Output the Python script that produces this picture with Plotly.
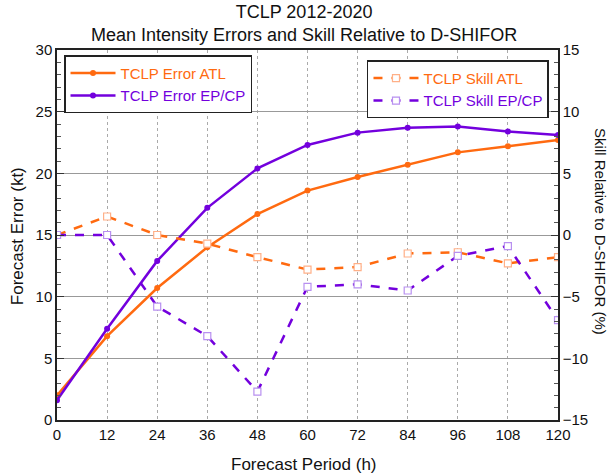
import plotly.graph_objects as go

hours = [0, 12, 24, 36, 48, 60, 72, 84, 96, 108, 120]
err_atl = [2.0, 6.8, 10.7, 14.0, 16.7, 18.6, 19.7, 20.7, 21.7, 22.2, 22.7]
err_ep = [1.6, 7.4, 12.9, 17.2, 20.4, 22.3, 23.3, 23.7, 23.8, 23.4, 23.1]
skill_atl = [0.0, 1.5, 0.0, -0.7, -1.8, -2.8, -2.6, -1.5, -1.4, -2.3, -1.8]
skill_ep = [0.0, 0.0, -5.8, -8.2, -12.7, -4.2, -4.0, -4.5, -1.7, -0.9, -6.9]
x_ticks = [0, 12, 24, 36, 48, 60, 72, 84, 96, 108, 120]

ORANGE = "#ff6a10"
PURPLE = "#7300dd"
ORANGE_L = "#ffb088"
PURPLE_L = "#b890f0"
FONT = "Liberation Sans, Arial, sans-serif"

fig = go.Figure()
fig.add_trace(go.Scatter(
    x=hours, y=err_atl, mode="lines+markers",
    name=f'<span style="color:{ORANGE}">TCLP Error ATL</span>',
    line=dict(color=ORANGE, width=2.5), marker=dict(color=ORANGE, size=6),
    legend="legend"))
fig.add_trace(go.Scatter(
    x=hours, y=err_ep, mode="lines+markers",
    name=f'<span style="color:{PURPLE}">TCLP Error EP/CP</span>',
    line=dict(color=PURPLE, width=2.5), marker=dict(color=PURPLE, size=6),
    legend="legend"))
fig.add_trace(go.Scatter(
    x=hours, y=skill_atl, mode="lines+markers", yaxis="y2",
    name=f'<span style="color:{ORANGE}">TCLP Skill ATL</span>',
    line=dict(color=ORANGE, width=2.5, dash="dash"),
    marker=dict(symbol="square", color="white", size=7,
                line=dict(color=ORANGE_L, width=1.2)),
    legend="legend2"))
fig.add_trace(go.Scatter(
    x=hours, y=skill_ep, mode="lines+markers", yaxis="y2",
    name=f'<span style="color:{PURPLE}">TCLP Skill EP/CP</span>',
    line=dict(color=PURPLE, width=2.5, dash="dash"),
    marker=dict(symbol="square", color="white", size=7,
                line=dict(color=PURPLE_L, width=1.2)),
    legend="legend2"))

axis_common = dict(
    showline=True, linecolor="#222", linewidth=1.5, automargin=False,
    tickfont=dict(size=15, color="#111", family=FONT),
)

fig.update_layout(
    width=608, height=476,
    margin=dict(l=57, r=50, t=50, b=56),
    paper_bgcolor="white", plot_bgcolor="white",
    font=dict(family=FONT, color="#111"),
    xaxis=dict(
        range=[0, 120], tickvals=x_ticks, ticks="", showgrid=True,
        gridcolor="#aaa", griddash="dot", gridwidth=1,
        zeroline=False, mirror=True,
        **axis_common),
    yaxis=dict(
        range=[0, 30], dtick=5, ticks="inside", ticklen=7, tickcolor="#333",
        minor=dict(dtick=1, ticks="inside", ticklen=4, tickcolor="#555", showgrid=False),
        showgrid=True, gridcolor="#999", gridwidth=1, zeroline=False,
        **axis_common),
    yaxis2=dict(
        range=[-15, 15], dtick=5, overlaying="y", side="right",
        ticks="inside", ticklen=7, tickcolor="#333",
        minor=dict(dtick=1, ticks="inside", ticklen=4, tickcolor="#555", showgrid=False),
        showgrid=False, zeroline=False,
        **axis_common),
    legend=dict(
        x=0.014, y=0.986, xanchor="left", yanchor="top",
        bgcolor="white", bordercolor="#222", borderwidth=1.5,
        font=dict(size=15, family=FONT), itemwidth=45, tracegroupgap=0),
    legend2=dict(
        x=0.982, y=0.972, xanchor="right", yanchor="top",
        bgcolor="white", bordercolor="#222", borderwidth=1.5,
        font=dict(size=15, family=FONT), itemwidth=45, tracegroupgap=0),
    showlegend=True,
)

def note(text, x, y, size, angle=0):
    fig.add_annotation(
        text=text, textangle=angle, xref="paper", yref="paper", x=x, y=y,
        xanchor="center", yanchor="middle", showarrow=False,
        font=dict(size=size, family=FONT, color="#111"))

note("TCLP 2012-2020<br>Mean Intensity Errors and Skill Relative to D-SHIFOR",
     0.4925, 1.072, 18)
note("Forecast Period (h)", 0.4925, -0.1216, 17)
note("Forecast Error (kt)", -0.0798, 0.497, 17, angle=-90)
note("Skill Relative to D-SHIFOR (%)", 1.0858, 0.508, 15, angle=90)

fig.write_html("out.html")
